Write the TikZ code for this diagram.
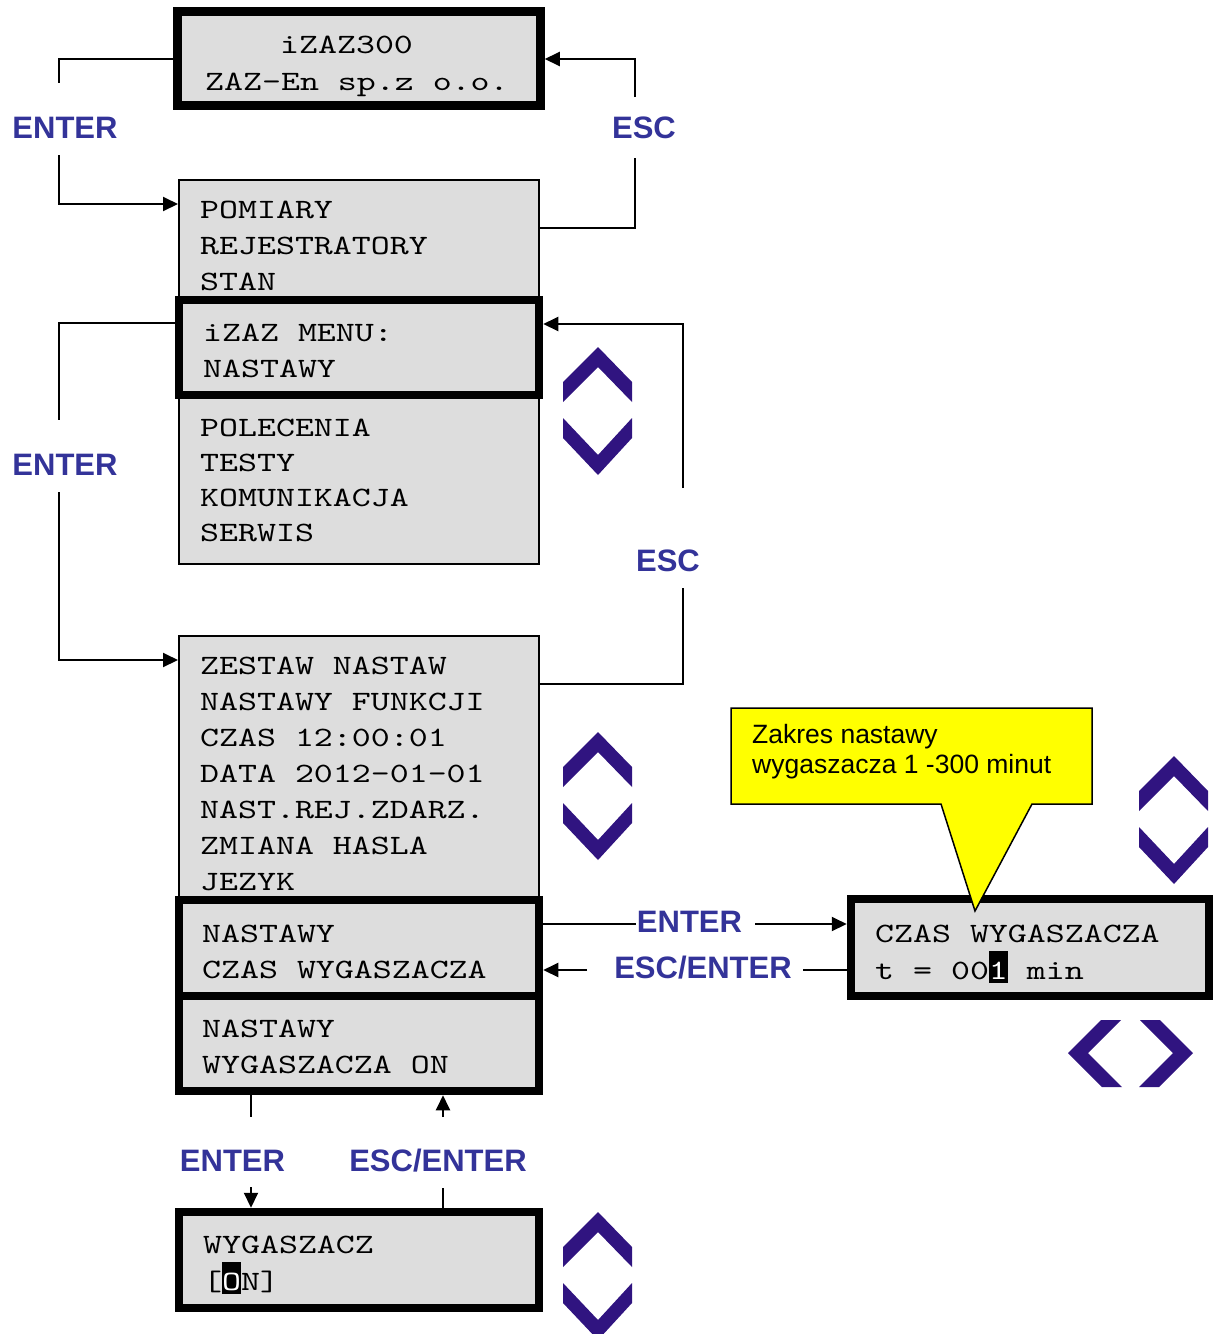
\documentclass[tikz,border=0pt]{standalone}
\usepackage{fontspec}
\usetikzlibrary{arrows.meta}
\newfontfamily\lcdfont{lmmono10-regular.otf}[FakeStretch=1.29]
\newfontfamily\lblfont{Liberation Sans}
\definecolor{keyblue}{RGB}{51,51,153}
\definecolor{lcdgray}{RGB}{221,221,221}
\definecolor{chevcol}{RGB}{48,20,128}
\definecolor{notey}{RGB}{255,255,0}
% inverted (cursor) character on the display
\newcommand\cursorchar[1]{\rlap{\color{black}\rule[-4pt]{19pt}{32pt}}\textcolor{white}{#1}}
\begin{document}
\begin{tikzpicture}[x=1pt,y=-1pt,
  box/.style={draw=black, fill=lcdgray, line width=2pt, rectangle, inner sep=0pt},
  framed/.style={box, line width=8.5pt},
  txt/.style={inner sep=0pt, anchor=base west, font=\lcdfont\fontsize{28pt}{36pt}\selectfont},
  key/.style={inner sep=0pt, anchor=base, text=keyblue, font=\lblfont\bfseries\fontsize{31pt}{31pt}\selectfont},
  notetxt/.style={inner sep=0pt, anchor=base west, font=\lblfont\fontsize{26.5pt}{30pt}\selectfont},
  conn/.style={line width=2pt},
  arr/.style={conn, -{Triangle[length=15pt,width=14pt]}},
  updown/.pic={
    \fill[chevcol] (0,35) -- (35,0) -- (69,35) -- (69,55) -- (35,20) -- (0,55) -- cycle;
    \fill[chevcol] (0,71) -- (35,108) -- (69,71) -- (69,91) -- (35,128) -- (0,91) -- cycle;
  }]
\useasboundingbox (0,0) rectangle (1213,1334);

% display boxes
\node[box, minimum width=360pt, minimum height=384pt] (B) at (359,372) {};
\node[framed, minimum width=360pt, minimum height=95pt] (C) at (359,347.5) {};
\node[framed, minimum width=363pt, minimum height=94pt] (A) at (359,58.5) {};
\node[box, minimum width=360pt, minimum height=312pt] (D) at (359,792) {};
\node[framed, minimum width=360pt, minimum height=96pt] (E) at (359,948) {};
\node[framed, minimum width=360pt, minimum height=95pt] (F) at (359,1043.5) {};
\node[framed, minimum width=358pt, minimum height=97pt] (G) at (1030,947.5) {};
\node[framed, minimum width=360pt, minimum height=96pt] (H) at (359,1260) {};

% display texts
\node[txt] (tA1) at (280,53) {iZAZ300};
\node[txt] (tA2) at (205,90) {ZAZ-En sp.z o.o.};
\foreach \t [count=\i] in {POMIARY,REJESTRATORY,STAN}
  \node[txt] (tB\i) at (200,{218+36*(\i-1)}) {\t};
\node[txt] (tC1) at (203,341) {iZAZ MENU:};
\node[txt] (tC2) at (203,377) {NASTAWY};
\foreach \t [count=\i] in {POLECENIA,TESTY,KOMUNIKACJA,SERWIS}
  \node[txt] (tP\i) at (200,{436+35.3*(\i-1)}) {\t};
\foreach \t [count=\i] in {ZESTAW NASTAW,NASTAWY FUNKCJI,CZAS 12:00:01,DATA 2012-01-01,NAST.REJ.ZDARZ.,ZMIANA HASLA,JEZYK}
  \node[txt] (tD\i) at (200,{674+36.1*(\i-1)}) {\t};
\node[txt] (tE1) at (202,942) {NASTAWY};
\node[txt] (tE2) at (202,978) {CZAS WYGASZACZA};
\node[txt] (tF1) at (202,1037) {NASTAWY};
\node[txt] (tF2) at (202,1073) {WYGASZACZA ON};
\node[txt] (tG1) at (875,942) {CZAS WYGASZACZA};
\node[txt] (tG2) at (875,979) {t = 00\cursorchar{1} min};
\node[txt] (tH1) at (203,1253) {WYGASZACZ};
\node[txt] (tH2) at (203,1290) {[\cursorchar{O}N]};

% key labels
\node[key] (k1) at (65,138) {ENTER};
\node[key] (k2) at (644,138) {ESC};
\node[key] (k3) at (65,475) {ENTER};
\node[key] (k4) at (668,571) {ESC};
\node[key] (k5) at (689.5,932) {ENTER};
\node[key] (k6) at (703,978) {ESC/ENTER};
\node[key] (k7) at (232.5,1171) {ENTER};
\node[key] (k8) at (438,1171) {ESC/ENTER};

% connector bend points and label gaps
\coordinate (c1a) at (59,83);   \coordinate (c1b) at (59,155);  \coordinate (c1c) at (59,204);
\coordinate (c2a) at (635,228); \coordinate (c2b) at (635,158); \coordinate (c2c) at (635,97);  \coordinate (c2d) at (635,59);
\coordinate (c3a) at (59,323);  \coordinate (c3b) at (59,420);  \coordinate (c3c) at (59,492);  \coordinate (c3d) at (59,660);
\coordinate (c4a) at (683,684); \coordinate (c4b) at (683,588); \coordinate (c4c) at (683,488); \coordinate (c4d) at (683,324);
\coordinate (c5a) at (636,924); \coordinate (c5b) at (755,924);
\coordinate (c6a) at (803,970); \coordinate (c6b) at (587,970);
\coordinate (c7a) at (251,1117); \coordinate (c7b) at (251,1187);
\coordinate (c8a) at (443,1188); \coordinate (c8b) at (443,1117);

\draw[conn] (A.west) -| (c1a);
\draw[arr] (c1b) -- (c1c) -- (B.west |- c1c);
\draw[conn] (B.east |- c2a) -- (c2a) -- (c2b);
\draw[arr] (c2c) -- (c2d) -- (A.east |- c2d);
\draw[conn] (C.west |- c3a) -- (c3a) -- (c3b);
\draw[arr] (c3c) -- (c3d) -- (D.west |- c3d);
\draw[conn] (D.east |- c4a) -- (c4a) -- (c4b);
\draw[arr] (c4c) -- (c4d) -- (C.east |- c4d);
\draw[conn] (E.east |- c5a) -- (c5a);
\draw[arr] (c5b) -- (G.west |- c5b);
\draw[conn] (G.west |- c6a) -- (c6a);
\draw[arr] (c6b) -- (E.east |- c6b);
\draw[conn] (F.south -| c7a) -- (c7a);
\draw[arr] (c7b) -- (H.north -| c7b);
\draw[conn] (H.north -| c8a) -- (c8a);
\draw[arr] (c8b) -- (F.south -| c8b);

% note callout
\draw[fill=notey, line width=1.5pt, line join=miter]
  (731,708) -- (1092,708) -- (1092,804) -- (1032,804) -- (975,911) -- (941,804) -- (731,804) -- cycle;
\node[notetxt] (n1) at (752,743) {Zakres nastawy};
\node[notetxt] (n2) at (752,773) {wygaszacza 1 -300 minut};

% navigation keys
\pic at (563,347) {updown};
\pic at (563,732) {updown};
\pic at (1139,756) {updown};
\pic at (563,1212) {updown};
\fill[chevcol] (1068,1053) -- (1101,1020) -- (1121,1020) -- (1088,1053) -- (1122,1087) -- (1102,1087) -- cycle;
\fill[chevcol] (1193,1053) -- (1160,1020) -- (1140,1020) -- (1173,1053) -- (1139,1087) -- (1159,1087) -- cycle;
\end{tikzpicture}
\end{document}
